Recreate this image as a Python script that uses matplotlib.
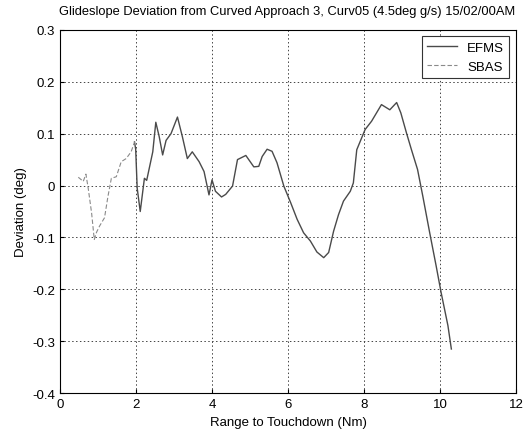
import matplotlib
matplotlib.use("Agg")
import matplotlib.pyplot as plt
from matplotlib.ticker import FuncFormatter

plt.rcParams["font.family"] = ["Liberation Sans", "DejaVu Sans"]

# SBAS segment (dashed, short range)
sbas_x = [0.48, 0.61, 0.68, 0.74, 0.83, 0.90, 0.96, 1.04, 1.17, 1.26, 1.35,
          1.48, 1.61, 1.74, 1.87, 1.96]
sbas_y = [0.016, 0.008, 0.022, -0.005, -0.053, -0.104, -0.090, -0.078, -0.062,
          -0.021, 0.014, 0.017, 0.046, 0.052, 0.065, 0.084]

# EFMS segment (solid)
efms_x = [1.96, 1.99, 2.03, 2.11, 2.22, 2.28, 2.44, 2.52, 2.61, 2.70, 2.79,
          2.92, 3.09, 3.22, 3.35, 3.48, 3.66, 3.79, 3.92, 4.00, 4.09, 4.25,
          4.36, 4.54, 4.67, 4.89, 5.10, 5.23, 5.32, 5.45, 5.58, 5.71, 5.89,
          6.07, 6.24, 6.41, 6.59, 6.76, 6.94, 7.07, 7.20, 7.33, 7.46, 7.64,
          7.72, 7.81, 7.90, 8.03, 8.20, 8.33, 8.46, 8.68, 8.86, 8.97, 9.12,
          9.25, 9.41, 9.55, 9.73, 9.90, 10.03, 10.21, 10.30]
efms_y = [0.084, 0.070, -0.005, -0.050, 0.014, 0.010, 0.065, 0.122, 0.094,
          0.059, 0.087, 0.100, 0.132, 0.094, 0.052, 0.065, 0.046, 0.027,
          -0.018, 0.011, -0.011, -0.022, -0.017, -0.001, 0.050, 0.058, 0.036,
          0.037, 0.056, 0.070, 0.066, 0.044, -0.001, -0.033, -0.065, -0.091,
          -0.107, -0.128, -0.139, -0.129, -0.088, -0.056, -0.030, -0.011,
          0.005, 0.069, 0.085, 0.108, 0.124, 0.140, 0.156, 0.146, 0.160,
          0.140, 0.101, 0.069, 0.031, -0.021, -0.091, -0.155, -0.206, -0.270,
          -0.315]

fig = plt.figure(figsize=(5.27, 4.35), dpi=100)
ax = fig.add_axes([0.114, 0.094, 0.865, 0.835])

ax.plot(efms_x, efms_y, color="#4a4a4a", lw=1.0, label="EFMS")
ax.plot(sbas_x, sbas_y, color="#8a8a8a", lw=0.8, ls=(0, (4, 2)), label="SBAS")

ax.set_xlim(0, 12)
ax.set_ylim(-0.4, 0.3)
ax.set_xticks(range(0, 13, 2))
ax.set_yticks([-0.4, -0.3, -0.2, -0.1, 0, 0.1, 0.2, 0.3])
ax.yaxis.set_major_formatter(FuncFormatter(lambda v, p: f"{v:g}" if abs(v) > 1e-9 else "0"))
ax.tick_params(direction="in", labelsize=9.5, length=3)
ax.grid(True, color="#444444", ls=(0, (1.5, 2.5)), lw=0.7)

fig.text(0.545, 0.972,
         "Glideslope Deviation from Curved Approach 3, Curv05 (4.5deg g/s) 15/02/00AM",
         fontsize=9.3, ha="center", va="center")
ax.set_xlabel("Range to Touchdown (Nm)", fontsize=9.5)
ax.set_ylabel("Deviation (deg)", fontsize=9.5)

leg = ax.legend(loc="upper right", fontsize=9.5, fancybox=False, framealpha=1,
                edgecolor="#333333", handlelength=2.2)
leg.get_frame().set_linewidth(0.8)

fig.savefig("out.png", dpi=100)
